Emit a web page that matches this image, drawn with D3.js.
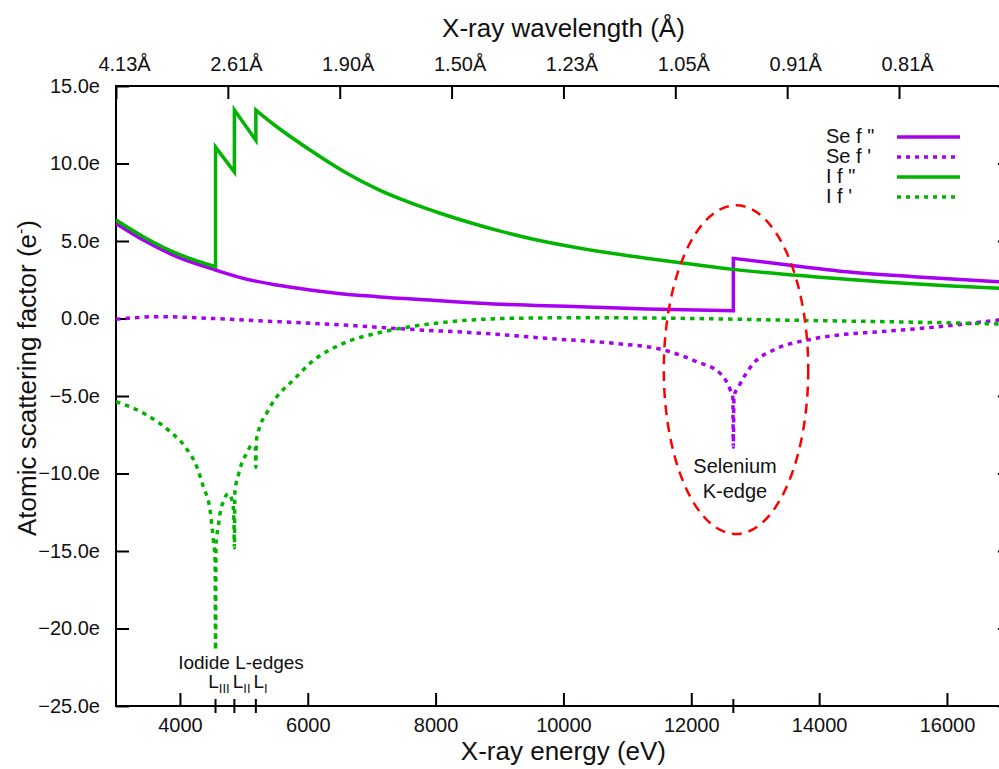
<!DOCTYPE html>
<html>
<head>
<meta charset="utf-8">
<script src="https://cdn.jsdelivr.net/npm/d3@7/dist/d3.min.js"></script>
<style>
  body { margin: 0; background: #fff; }
  svg { display: block; font-family: "Liberation Sans", Arial, sans-serif; }
</style>
</head>
<body>
<svg id="chart" width="999" height="769"></svg>
<script>
// [energy eV, factor e-]; repeated energies are absorption edges
const seFpp = [[3000,6.14],[3427,5.06],[3950,3.99],[4557,3.13],[4992,2.59],[5515,2.16],[6036,1.84],
  [6557,1.58],[7080,1.41],[8070,1.15],[8696,0.98],[10262,0.76],[11305,0.61],[12658,0.50],
  [12658,3.88],[13391,3.52],[14435,3.02],[15478,2.70],[16808,2.37],[17000,2.33]];
const seFp = [[3000,-0.05],[3689,0.12],[4471,0.01],[5515,-0.2],[6557,-0.42],[7601,-0.7],[8748,-0.96],
  [9740,-1.28],[10783,-1.6],[11566,-2.03],[12088,-2.79],[12452,-3.54],[12609,-4.6],[12650,-5.1],
  [12658,-8.3],[12668,-5.0],[12740,-4.4],[12974,-2.89],[13287,-2.03],[13809,-1.39],[14330,-1.05],
  [14956,-0.85],[15999,-0.48],[16808,-0.1],[17000,-0.02]];
const iFpp = [[3000,6.35],[3427,5.28],[3950,4.2],[4557,3.34],[4557,11.06],[4852,9.45],[4852,13.45],
  [5188,11.5],[5188,13.45],[5515,12.37],[6036,10.87],[6557,9.5],[7080,8.36],[7601,7.47],[8070,6.79],
  [9010,5.64],[9479,5.16],[10262,4.53],[11044,4.03],[11826,3.6],[12657,3.17],[13908,2.7],
  [14956,2.37],[16000,2.12],[17000,1.92]];
const iFp = [[3000,-5.37],[3427,-6.1],[3846,-7.3],[4080,-8.27],[4263,-9.56],[4366,-10.85],[4471,-12.35],
  [4523,-14.3],[4549,-15.4],[4557,-21.4],[4565,-14.5],[4601,-13.4],[4627,-12.6],[4679,-11.8],
  [4758,-11.3],[4826,-11.9],[4845,-13.0],[4852,-14.8],[4860,-11.2],[4914,-10.1],[4967,-9.34],
  [5045,-8.7],[5123,-8.16],[5180,-8.3],[5188,-9.6],[5196,-7.9],[5227,-7.3],[5358,-6.1],[5515,-5.05],
  [5567,-4.8],[5775,-3.97],[6036,-2.89],[6557,-1.6],[7080,-0.95],[7601,-0.53],[8122,-0.25],
  [9166,0.01],[10262,0.05],[11826,0.01],[13391,-0.1],[14956,-0.2],[16808,-0.35],[17000,-0.37]];

const energyTicks = [4000, 6000, 8000, 10000, 12000, 14000, 16000];
const edgeEnergies = [4557, 4852, 5188, 12658];
const factorTicks = [15, 10, 5, 0, -5, -10, -15, -20, -25];
const wavelengthTickEnergies = [3000, 4750, 6500, 8250, 10000, 11750, 13500, 15250];
const wavelengthLabels = ["4.13Å", "2.61Å", "1.90Å", "1.50Å", "1.23Å", "1.05Å", "0.91Å", "0.81Å"];
const legendNames = ['Se f "', "Se f '", 'I f "', "I f '"];

const PURPLE = "#a800f0", GREEN = "#00b400";

const svg = d3.select("#chart");
const pLeft = 116, pTop = 86, pBottom = 706, pRight = 116 + 14000 * 0.06392;

const x = d3.scaleLinear().domain([3000, 17000]).range([pLeft, pRight]);
const y = d3.scaleLinear().domain([-25, 15]).range([pBottom, pTop]);

svg.append("defs").append("clipPath").attr("id", "plot")
  .append("rect").attr("x", pLeft).attr("y", pTop).attr("width", pRight - pLeft).attr("height", pBottom - pTop);

function styleAxis(g) {
  g.select(".domain").remove();
  g.selectAll(".tick line").attr("stroke", "#000").attr("stroke-width", 2);
  g.selectAll(".tick text").attr("font-size", 20).attr("fill", "#111");
  g.attr("font-family", null).attr("font-size", null);
}

svg.append("g").attr("transform", `translate(0,${pBottom})`)
  .call(d3.axisBottom(x).tickValues(energyTicks).tickSizeInner(-13).tickSizeOuter(0).tickPadding(12).tickFormat(d3.format("d")))
  .call(styleAxis);

svg.append("g").attr("transform", `translate(0,${pTop})`)
  .call(d3.axisTop(x).tickValues(wavelengthTickEnergies).tickSizeInner(-13).tickSizeOuter(0).tickPadding(15)
    .tickFormat((d, i) => wavelengthLabels[i]))
  .call(styleAxis)
  .selectAll(".tick text").attr("dx", 8);

svg.append("g").attr("transform", `translate(${pLeft},0)`)
  .call(d3.axisLeft(y).tickValues(factorTicks).tickSizeInner(-13).tickSizeOuter(0).tickPadding(16)
    .tickFormat(d => d3.format(".1f")(d) + "e"))
  .call(styleAxis);

svg.append("g").attr("transform", `translate(${pRight},0)`)
  .call(d3.axisRight(y).tickValues(factorTicks).tickSizeInner(-13).tickSizeOuter(0).tickFormat(""))
  .call(styleAxis);

// edge markers crossing the energy axis
svg.append("g").selectAll("line").data(edgeEnergies).join("line")
  .attr("x1", d => x(d)).attr("x2", d => x(d))
  .attr("y1", pBottom - 7).attr("y2", pBottom + 7)
  .attr("stroke", "#000").attr("stroke-width", 2);

svg.append("rect").attr("x", pLeft).attr("y", pTop).attr("width", pRight - pLeft).attr("height", pBottom - pTop)
  .attr("fill", "none").attr("stroke", "#000").attr("stroke-width", 2);

const line = d3.line().x(d => x(d[0])).y(d => y(d[1])).curve(d3.curveMonotoneX);

function edgePath(data) {
  // split at repeated energies and join the pieces with vertical jumps
  const parts = [[]];
  data.forEach((d, i) => {
    if (i > 0 && d[0] === data[i - 1][0]) parts.push([]);
    parts[parts.length - 1].push(d);
  });
  return parts.map((p, i) => { const s = line(p); return i ? s.replace(/^M/, "L") : s; }).join("");
}

const series = [
  { data: seFpp, color: PURPLE, dash: null },
  { data: seFp, color: PURPLE, dash: "4.5,5" },
  { data: iFpp, color: GREEN, dash: null },
  { data: iFp, color: GREEN, dash: "4.5,5" }
];

const plot = svg.append("g").attr("clip-path", "url(#plot)");
// draw dotted f' first, then f'' on top
[series[1], series[3], series[0], series[2]].forEach(s => {
  plot.append("path")
    .attr("d", edgePath(s.data))
    .attr("fill", "none")
    .attr("stroke", s.color)
    .attr("stroke-width", 3.5)
    .attr("stroke-linejoin", "miter")
    .attr("stroke-dasharray", s.dash);
});

// Selenium K-edge ellipse
plot.append("ellipse")
  .attr("cx", x(12700)).attr("cy", y(-3.3))
  .attr("rx", x(12700 + 1130) - x(12700)).attr("ry", y(-3.3) - y(-3.3 + 10.6))
  .attr("fill", "none").attr("stroke", "#ff0000").attr("stroke-width", 2.5).attr("stroke-dasharray", "10,7");

svg.append("text").attr("x", 735).attr("y", 473).attr("text-anchor", "middle").attr("font-size", 20).attr("fill", "#111").text("Selenium");
svg.append("text").attr("x", 735).attr("y", 498).attr("text-anchor", "middle").attr("font-size", 20).attr("fill", "#111").text("K-edge");

svg.append("text").attr("x", 241).attr("y", 669).attr("text-anchor", "middle").attr("font-size", 19).attr("fill", "#111").text("Iodide L-edges");
const lt = svg.append("text").attr("x", 238).attr("y", 688).attr("text-anchor", "middle").attr("font-size", 19).attr("fill", "#111");
[["L", "III"], ["L", "II"], ["L", "I"]].forEach((p, i) => {
  lt.append("tspan").attr("dy", i ? -5 : 0).attr("dx", i ? 3 : 0).text(p[0]);
  lt.append("tspan").attr("dy", 5).attr("font-size", 13).text(p[1]);
});

// legend
const lg = svg.append("g");
legendNames.forEach((name, i) => {
  const s = series[i];
  lg.append("text").attr("x", 826).attr("y", 143 + i * 20).attr("font-size", 20).attr("fill", "#111").text(name);
  lg.append("line").attr("x1", 897).attr("x2", 960).attr("y1", 137 + i * 20).attr("y2", 137 + i * 20)
    .attr("stroke", s.color).attr("stroke-width", 3.5).attr("stroke-dasharray", s.dash ? "4,5" : null);
});

// axis titles
const mid = (pLeft + pRight) / 2;
svg.append("text").attr("x", mid).attr("y", 37).attr("text-anchor", "middle").attr("font-size", 26).attr("fill", "#111")
  .text("X-ray wavelength (Å)");
svg.append("text").attr("x", mid).attr("y", 760).attr("text-anchor", "middle").attr("font-size", 26).attr("fill", "#111")
  .text("X-ray energy (eV)");
const yl = svg.append("text").attr("transform", "translate(36,378) rotate(-90)").attr("text-anchor", "middle")
  .attr("font-size", 26).attr("fill", "#111");
yl.append("tspan").text("Atomic scattering factor (e");
yl.append("tspan").attr("font-size", 16).attr("dy", -10).text("-");
yl.append("tspan").attr("dy", 10).text(")");
</script>
</body>
</html>
